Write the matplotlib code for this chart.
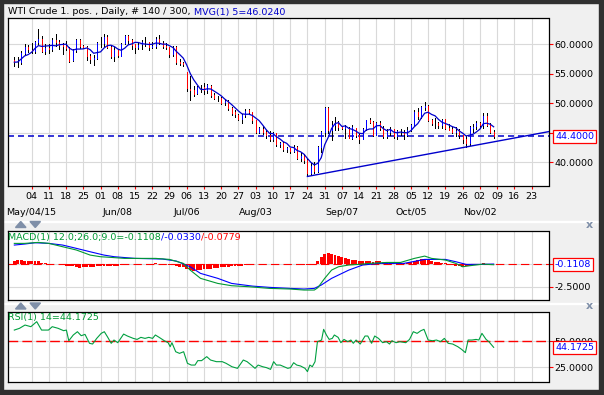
import numpy as np
import pandas as pd
import matplotlib
matplotlib.use("Agg")
import matplotlib.pyplot as plt
from matplotlib.patches import Rectangle, Polygon
from matplotlib.transforms import blended_transform_factory as btf

plt.rcParams['font.family'] = ['DejaVu Sans']
plt.rcParams['axes.unicode_minus'] = False
plt.rcParams['lines.scale_dashes'] = False

# ---------------- data ----------------
opens = [57.4, 57.0, 57.1, 58.6, 59.5, 59.1, 58.9, 60.5, 60.9, 58.9,
         59.4, 59.3, 60.7, 60.5, 59.9, 59.7, 59.4, 57.3, 59.0, 60.7,
         59.7, 59.6, 58.0, 57.5, 57.7, 60.3, 60.2, 61.3, 59.6, 58.0,
         59.1, 58.1, 60.2, 61.4, 60.8, 60.0, 59.5, 60.0, 60.4, 60.4,
         59.6, 59.7, 61.0, 60.3, 59.7, 59.6, 58.3, 59.5, 57.0, 56.9,
         55.3, 52.5, 52.3, 51.7, 52.8, 52.7, 52.2, 53.0, 51.4, 50.9,
         50.9, 50.2, 50.4, 49.2, 48.5, 48.1, 47.4, 48.0, 48.8, 48.5,
         47.1, 45.2, 45.7, 45.2, 44.7, 43.9, 45.0, 43.1, 43.3, 42.2,
         42.5, 41.9, 42.6, 40.8, 41.1, 40.4, 38.2, 39.3, 38.6, 42.6,
         45.2, 49.2, 45.4, 46.3, 46.8, 46.0, 45.9, 45.9, 44.2, 45.9,
         44.6, 44.0, 45.6, 47.2, 46.9, 44.7, 46.7, 45.8, 44.5, 45.2,
         45.7, 44.4, 45.2, 45.1, 44.7, 45.5, 46.3, 48.5, 47.8, 49.4,
         49.6, 47.1, 46.7, 46.6, 46.4, 47.3, 45.9, 45.6, 45.2, 45.4,
         44.6, 44.0, 43.2, 45.9, 46.1, 46.6, 46.3, 47.9, 46.3, 45.2]
highs = [57.9, 57.9, 58.9, 60.0, 59.9, 60.2, 60.6, 62.6, 61.4, 60.0,
         60.1, 61.1, 61.7, 60.8, 60.3, 60.6, 59.6, 59.3, 61.0, 60.9,
         59.9, 59.8, 58.4, 58.2, 60.5, 61.2, 61.8, 61.6, 59.8, 59.6,
         59.3, 60.3, 61.6, 61.6, 60.9, 60.0, 60.4, 60.7, 61.2, 60.4,
         60.5, 61.2, 61.6, 60.6, 60.2, 59.6, 59.7, 59.8, 57.5, 57.0,
         55.4, 54.6, 53.0, 53.0, 53.2, 53.5, 53.3, 53.2, 51.8, 51.3,
         51.0, 50.8, 50.5, 49.4, 48.9, 48.2, 48.2, 49.0, 49.0, 48.6,
         47.1, 46.0, 46.2, 45.5, 45.3, 45.1, 45.0, 43.5, 43.5, 42.6,
         42.5, 42.9, 42.7, 41.6, 41.4, 40.6, 39.9, 40.0, 42.8, 45.3,
         49.4, 49.4, 47.0, 47.7, 47.0, 46.2, 46.4, 46.0, 46.4, 45.9,
         44.9, 45.9, 47.2, 47.6, 47.0, 46.9, 47.0, 46.1, 45.6, 46.0,
         45.7, 45.5, 45.6, 45.4, 46.0, 46.5, 48.8, 49.2, 49.6, 50.2,
         49.8, 47.4, 47.5, 46.9, 47.4, 47.3, 46.5, 46.0, 46.0, 45.7,
         44.7, 44.4, 46.2, 46.5, 47.0, 46.9, 48.3, 48.3, 46.6, 45.4]
lows = [56.3, 56.1, 56.7, 58.3, 58.7, 58.5, 58.6, 60.0, 58.8, 58.3,
        58.6, 58.9, 59.8, 59.3, 58.4, 59.0, 57.1, 57.2, 58.8, 59.4,
        59.4, 57.4, 56.9, 56.5, 57.6, 59.6, 59.7, 59.4, 57.7, 57.2,
        57.9, 58.0, 60.0, 60.1, 59.3, 58.6, 59.2, 59.3, 59.8, 59.1,
        59.4, 59.4, 60.0, 59.4, 59.3, 57.9, 58.0, 56.7, 56.5, 56.4,
        52.1, 50.6, 51.2, 51.6, 52.0, 51.6, 51.8, 51.1, 50.7, 50.4,
        49.9, 49.7, 48.9, 48.0, 47.7, 47.1, 46.7, 47.7, 48.2, 46.7,
        45.0, 44.9, 44.8, 44.1, 43.6, 43.6, 42.7, 42.6, 42.0, 41.8,
        41.6, 41.7, 40.6, 40.2, 39.9, 37.8, 38.0, 38.2, 38.4, 41.8,
        44.5, 45.0, 43.8, 45.4, 45.5, 45.7, 44.2, 44.1, 44.0, 44.3,
        43.2, 43.9, 45.4, 46.6, 44.5, 44.6, 45.5, 44.2, 44.2, 44.7,
        44.2, 44.0, 44.6, 43.9, 44.5, 45.3, 46.2, 47.4, 47.5, 48.9,
        47.0, 46.3, 45.9, 45.9, 45.9, 45.6, 45.4, 44.9, 44.5, 44.2,
        43.2, 42.6, 43.0, 45.2, 45.6, 45.8, 45.9, 46.2, 45.0, 44.1]
closes = [56.99, 57.06, 58.58, 59.63, 59.15, 58.93, 60.40, 60.93, 58.94, 59.39,
          59.25, 60.75, 60.50, 59.88, 59.69, 59.43, 57.26, 58.98, 60.72, 59.72,
          59.60, 58.03, 57.51, 57.68, 60.30, 60.20, 61.26, 59.64, 58.00, 59.13,
          58.14, 60.14, 61.43, 60.77, 59.96, 59.52, 59.97, 60.45, 60.45, 59.61,
          59.68, 61.01, 60.27, 59.70, 59.63, 58.33, 59.47, 56.96, 56.93, 56.70,
          52.53, 52.33, 51.65, 52.78, 52.74, 52.20, 53.04, 51.41, 50.91, 50.89,
          50.15, 50.36, 49.19, 48.45, 48.14, 47.39, 47.98, 48.79, 48.52, 47.12,
          45.17, 45.74, 45.15, 44.66, 43.87, 44.96, 43.08, 43.30, 42.23, 42.50,
          41.87, 42.62, 40.80, 41.14, 40.45, 38.24, 39.31, 38.60, 42.56, 45.22,
          49.20, 45.41, 46.25, 46.75, 46.05, 45.90, 45.94, 44.15, 45.92, 44.63,
          44.00, 45.59, 47.15, 46.90, 44.68, 46.68, 45.83, 44.48, 45.22, 45.70,
          44.43, 45.23, 45.09, 44.74, 45.54, 46.26, 48.53, 47.81, 49.43, 49.63,
          47.10, 46.66, 46.64, 46.38, 47.26, 45.89, 45.55, 45.20, 45.38, 44.60,
          43.98, 43.20, 45.94, 46.06, 46.59, 46.30, 47.90, 46.32, 45.20, 44.40]
ma_period = 5

trend_x = [85, 131]
trend_y = [37.6, 42.6]

macd_x = [0, 3, 7, 10, 14, 18, 22, 25, 28, 32, 35, 41, 45, 49, 51, 54, 59, 63, 68, 74,
          80, 84, 87, 88, 90, 92, 94, 97, 100, 103, 108, 112, 116, 119, 121, 125, 128,
          130, 132, 136, 139]
macd_v = [2.21, 2.21, 2.32, 2.21, 1.85, 1.49, 0.94, 0.76, 0.69, 0.58, 0.58, 0.58, 0.47,
          0.04, -0.69, -1.59, -2.14, -2.39, -2.50, -2.68, -2.75, -2.86, -2.86, -2.61,
          -1.59, -0.69, -0.33, -0.14, -0.07, 0.04, 0.14, 0.14, 0.58, 0.83, 0.58, 0.40,
          0.04, -0.33, -0.22, -0.04, -0.1108]
signal_x = [0, 3, 6, 10, 14, 18, 22, 26, 29, 35, 43, 47, 51, 54, 59, 63, 69, 74, 80, 84,
            87, 89, 92, 97, 101, 106, 113, 119, 125, 128, 131, 136, 139]
signal_v = [2.03, 2.14, 2.28, 2.21, 2.03, 1.67, 1.30, 0.94, 0.76, 0.58, 0.51, 0.29,
            -0.33, -1.05, -1.59, -2.14, -2.43, -2.57, -2.68, -2.75, -2.68, -2.32, -1.59,
            -0.69, -0.14, 0.04, 0.04, 0.47, 0.47, 0.22, -0.07, -0.07, -0.033]
macd_hist = [0.35, 0.40, 0.38, 0.30, 0.30, 0.35, 0.32, 0.25,
             0.10, 0.05, 0.02, 0.00, 0.02, -0.02,
             -0.10, -0.20, -0.25, -0.30, -0.40, -0.42, -0.40, -0.38, -0.35, -0.40,
             -0.30, -0.25, -0.20, -0.30, -0.30, -0.25, -0.20, -0.10, -0.05,
             0.00, 0.02, 0.00, -0.02, 0.00, 0.02, 0.00, -0.05, 0.05, 0.00, -0.05,
             -0.05, -0.10, -0.10,
             -0.25, -0.35, -0.40, -0.60, -0.70, -0.75, -0.70, -0.65, -0.60, -0.55,
             -0.55, -0.50, -0.45, -0.40, -0.40, -0.35, -0.30, -0.30, -0.25, -0.20, -0.15,
             -0.10, -0.10, -0.05, -0.05, -0.05, -0.02, 0.00, -0.02, -0.05, 0.00,
             -0.05, -0.02, 0.00, -0.05, -0.05, -0.08, -0.10, -0.10, -0.05, 0.00,
             0.25, 0.70, 1.05, 1.12, 1.10, 1.00, 0.85, 0.70, 0.60, 0.50, 0.45, 0.40, 0.35,
             0.30, 0.30, 0.25, 0.20, 0.30, 0.25, 0.20, 0.15, 0.20, 0.15, 0.10, 0.08,
             0.05, 0.10,
             0.20, 0.35, 0.45, 0.55, 0.55, 0.40, 0.30, 0.20, 0.15, 0.10, 0.05, 0.00,
             -0.10, -0.20, -0.30, -0.35, -0.30, -0.20, -0.10, -0.05, 0.00, 0.05, 0.02,
             -0.03, -0.0779]

rsi_x = [0, 1.5, 3.1, 4.8, 6.5, 7.9, 9.9, 11, 12.7, 14.3, 15.1, 15.8, 17.1, 18.3, 19.4,
         20.5, 21.8, 22.7, 23.9, 25.2, 26.1, 27, 28.1, 28.9, 30, 31.7, 32.8, 34.5, 35.6,
         36.7, 37.9, 39, 40.1, 40.9, 42, 43.5, 44.6, 45.2, 45.7, 46.8, 47.9, 49.1, 50.2,
         51.3, 52.4, 53.2, 54.3, 55.8, 56.9, 58.6, 60.3, 61.4, 63.1, 64.7, 66.4, 67.5,
         68.7, 69.8, 70.7, 72, 73.1, 74.3, 75.2, 76, 77.1, 78.2, 79.3, 80.1, 81, 81.9, 83,
         84.3, 85, 85.7, 86.4, 87.2, 87.9, 89.1, 89.7, 90.5, 91.3, 92.2, 92.8, 93.9, 94.7,
         95.6, 96.7, 97.6, 98.3, 99.1, 100.3, 101.7, 102.5, 103.6, 104.5, 105.6, 106.8,
         107.9, 108.8, 109.5, 110.7, 111.8, 113.5, 114.6, 115.7, 116.8, 117.9, 118.8, 120,
         121.3, 122.4, 123.6, 124.7, 125.8, 127.1, 128.6, 129.7, 130.8, 131.6, 132.7,
         133.9, 134.7, 135.6, 136.8, 137.6, 139]
rsi_v = [61.0, 62.7, 65.9, 64.3, 69.2, 61.0, 61.0, 64.3, 62.7, 60.4, 61.0, 50.6, 56.2,
         59.4, 55.5, 56.8, 48.1, 47.4, 52.9, 57.8, 59.4, 54.5, 48.1, 51.3, 48.7, 57.1,
         55.2, 52.9, 51.9, 53.9, 52.9, 53.9, 52.9, 56.2, 53.9, 50.6, 48.7, 44.8, 48.7,
         39.9, 38.3, 39.9, 28.6, 26.9, 26.9, 31.2, 31.2, 35.1, 31.8, 30.2, 30.2, 28.6,
         25.3, 23.7, 31.8, 30.2, 26.9, 23.7, 26.9, 25.3, 24.4, 22.7, 30.2, 26.9, 26.9,
         25.3, 23.7, 24.4, 29.2, 26.9, 26.0, 23.7, 20.5, 26.9, 25.3, 30.2, 49.7, 51.3,
         61.7, 56.2, 51.9, 52.9, 56.2, 53.9, 48.7, 51.9, 49.7, 51.3, 48.1, 51.3, 47.4,
         55.2, 55.2, 48.1, 55.2, 52.9, 48.7, 49.7, 47.4, 50.6, 48.7, 49.7, 48.7, 51.9,
         59.4, 57.8, 60.4, 61.7, 51.3, 50.6, 51.3, 49.7, 52.9, 48.1, 47.4, 44.8, 42.2,
         39.0, 51.3, 51.3, 51.9, 51.3, 57.8, 51.9, 49.7, 44.1725]
rsi_period = 14

week_labels = ['04', '11', '18', '25', '01', '08', '15', '22', '29', '06', '13', '20',
               '27', '03', '10', '17', '24', '31', '07', '14', '21', '28', '05', '12',
               '19', '26', '02', '09', '16', '23']
week_pos = list(range(5, 151, 5))
month_labels = ['May/04/15', 'Jun/08', 'Jul/06', 'Aug/03', 'Sep/07', 'Oct/05', 'Nov/02']
month_pos = [5, 30, 50, 70, 95, 115, 135]
price_ticks = [40, 45, 50, 55, 60]
price_hidden = [45]          # label covered by the value box
macd_ticks = [-2.5, 0.0]
macd_hidden = [0.0]
rsi_ticks = [25, 50]
rsi_hidden = []

# ---------------- figure ----------------
W, H = 604, 395
fig = plt.figure(figsize=(W / 100, H / 100), dpi=100)
fig.patch.set_facecolor('#f0f0f0')


def rect(l, t, r, b):
    return [l / W, 1 - b / H, (r - l) / W, (b - t) / H]


FS = 6.8
XL = (-1.83, 154.9)
GRID = '#d9d9d9'
BLUE = '#0000cc'
GREEN = '#009933'
RED = '#ff0000'

ax1 = fig.add_axes(rect(8, 17.5, 548.5, 185.5))
ax2 = fig.add_axes(rect(8, 230.7, 548.5, 299.7))
ax3 = fig.add_axes(rect(8, 311.7, 548.5, 382.3))


def fmt_factory(hidden):
    def f(v, pos):
        if any(abs(v - hv) < 1e-9 for hv in hidden):
            return ''
        return '%.4f' % v
    return matplotlib.ticker.FuncFormatter(f)


for ax in (ax1, ax2, ax3):
    ax.set_facecolor('white')
    ax.set_xlim(*XL)
    ax.set_axisbelow(True)
    ax.grid(True, color=GRID, lw=0.8)
    for s in ax.spines.values():
        s.set_color('black')
        s.set_linewidth(0.9)
    ax.yaxis.tick_right()
    ax.tick_params(axis='y', which='both', direction='out', length=3.2, width=0.8,
                   color=RED, labelcolor='black', labelsize=FS, pad=1.0, left=False)
    ax.set_xticks(week_pos)

# ---- price panel ----
idx = np.arange(len(closes))
o = np.array(opens); h = np.array(highs); l = np.array(lows); c = np.array(closes)
body_col = np.where(c >= o, '#0000ff', RED)
ax1.vlines(idx, l, h, colors='black', lw=0.72, antialiased=False, zorder=3)
ax1.vlines(idx, np.minimum(o, c), np.maximum(o, c), colors=body_col, lw=0.72,
           antialiased=False, zorder=4)
ma = pd.Series(closes).rolling(ma_period, min_periods=1).mean()
ax1.plot(idx, ma, color=BLUE, lw=0.9, zorder=5)
ax1.axhline(closes[-1], color=BLUE, lw=1.1, ls=(0, (4.3, 2.9)), zorder=2)
slope = (trend_y[1] - trend_y[0]) / (trend_x[1] - trend_x[0])
ax1.plot([trend_x[0], XL[1]], [trend_y[0], trend_y[0] + slope * (XL[1] - trend_x[0])],
         color=BLUE, lw=1.0, zorder=5)
ax1.set_ylim(36.06, 64.58)
ax1.set_yticks(price_ticks)
ax1.yaxis.set_major_formatter(fmt_factory(price_hidden))
ax1.set_xticklabels(week_labels)
ax1.tick_params(axis='x', direction='out', length=2.2, width=0.8, color=RED,
                labelsize=FS, pad=2.4, top=False)
for lab, p in zip(month_labels, month_pos):
    ax1.annotate(lab, xy=(p, 0), xycoords=('data', 'axes fraction'),
                 xytext=(0, -26.5 * 0.72), textcoords='offset points',
                 ha='center', va='center', fontsize=FS, annotation_clip=False)

# ---- MACD panel ----
xs = np.arange(len(macd_hist))
ax2.bar(xs, macd_hist, width=0.85, color=RED, zorder=2, linewidth=0)
ax2.axhline(0, color=RED, lw=0.8, ls=(0, (6, 3)), zorder=2)
ax2.plot(signal_x, signal_v, color='#0000ff', lw=0.8, zorder=3)
ax2.plot(macd_x, macd_v, color=GREEN, lw=0.8, zorder=4)
ax2.set_ylim(-3.91, 3.59)
ax2.set_yticks(macd_ticks)
ax2.yaxis.set_major_formatter(fmt_factory(macd_hidden))
ax2.tick_params(axis='x', length=0, labelbottom=False)

# ---- RSI panel ----
ax3.plot(rsi_x, rsi_v, color='#00a040', lw=0.8, zorder=3)
ax3.axhline(50, color=RED, lw=1.0, ls=(0, (7, 3)), zorder=2)
ax3.set_ylim(10.1, 78.9)
ax3.set_yticks(rsi_ticks)
ax3.yaxis.set_major_formatter(fmt_factory(rsi_hidden))
ax3.tick_params(axis='x', length=0, labelbottom=False)

# ---------------- decorations ----------------
fig.canvas.draw()
renderer = fig.canvas.get_renderer()


def seq_text(x_px, y_px, parts, size=FS):
    x = x_px
    for s, col in parts:
        t = fig.text(x / W, 1 - y_px / H, s, color=col, fontsize=size,
                     ha='left', va='center', zorder=10)
        x += t.get_window_extent(renderer).width


seq_text(8.3, 12, [('WTI Crude 1. pos. , Daily, # 140 / 300,', 'black'),
                   (' MVG(1) 5=%.4f' % ma.iloc[-1], BLUE)], size=6.8)
seq_text(8.5, 237.3, [('MACD(1) 12.0;26.0;9.0=%.4f' % macd_v[-1], GREEN),
                      ('/%.4f' % signal_v[-1], '#0000ff'),
                      ('/%.4f' % macd_hist[-1], RED)])
seq_text(8.5, 317.3, [('RSI(1) %d=%.4f' % (rsi_period, rsi_v[-1]), GREEN)])


def value_box(ax, val):
    t = fig.text(555 / W, val, '%.4f' % val, transform=btf(fig.transFigure, ax.transData),
                 fontsize=FS, color='#0000ff', ha='left', va='center', zorder=12)
    t.set_bbox(dict(boxstyle='square,pad=0.2', facecolor='white', edgecolor=RED, lw=0.9))


value_box(ax1, closes[-1])
value_box(ax2, macd_v[-1])
value_box(ax3, rsi_v[-1])

# window frame
frame = '#303030'
for (x0, y0, w, hh) in [(0, 0, 2.7, H), (0, 0, W, 2.7), (598.5, 0, 5.5, H), (0, 390, W, 5)]:
    fig.add_artist(Rectangle((x0 / W, 1 - (y0 + hh) / H), w / W, hh / H,
                             transform=fig.transFigure, color=frame, zorder=20))
# separators
for y in (220.5, 302.5):
    fig.add_artist(Rectangle((2.7 / W, 1 - (y + 1) / H), 596 / W, 1 / H,
                             transform=fig.transFigure, color='white', zorder=1))
# panel icons
icon = '#7f8fa8'
for yc in (224.5, 306):
    up = [(15.5, yc + 3), (26, yc + 3), (20.75, yc - 3)]
    dn = [(30, yc - 3), (40.5, yc - 3), (35.25, yc + 3)]
    for tri in (up, dn):
        fig.add_artist(Polygon([(x / W, 1 - y / H) for x, y in tri], closed=True,
                               transform=fig.transFigure, color=icon, zorder=15))
    fig.text(589 / W, 1 - yc / H, 'x', color=icon, fontsize=8, fontweight='bold',
             ha='center', va='center', zorder=15)

fig.savefig('out.png', dpi=100, facecolor=fig.get_facecolor())
